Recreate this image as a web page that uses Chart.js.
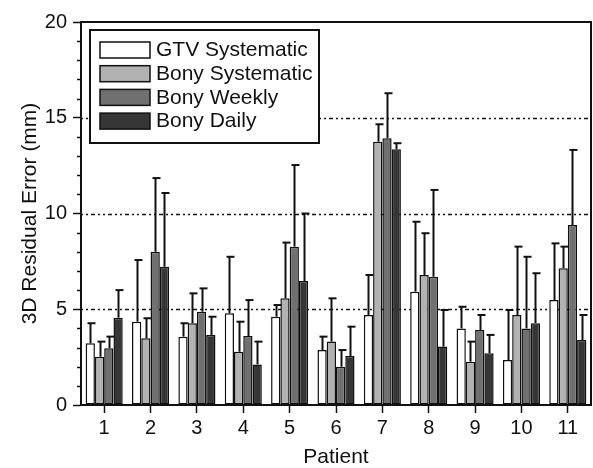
<!DOCTYPE html>
<html>
<head>
<meta charset="utf-8">
<script src="https://cdn.jsdelivr.net/npm/chart.js@4/dist/chart.umd.min.js"></script>
<style>
html,body{margin:0;padding:0;background:#fff;}
#wrap{position:relative;width:593px;height:468px;}
</style>
</head>
<body>
<div id="wrap"><canvas id="c" width="593" height="468"></canvas></div>
<script>
const categories = ['1','2','3','4','5','6','7','8','9','10','11'];
const seriesNames = ['GTV Systematic','Bony Systematic','Bony Weekly','Bony Daily'];
const gtvSystematic = [3.22,4.35,3.57,4.79,4.61,2.87,4.70,5.92,4.00,2.35,5.48];
const gtvSystematicErr = [1.05,3.22,0.70,2.95,0.61,0.70,2.09,3.65,1.13,2.61,2.96];
const bonySystematic = [2.52,3.48,4.27,2.78,5.57,3.31,13.75,6.79,2.26,4.70,7.14];
const bonySystematicErr = [0.79,1.05,1.56,1.57,2.91,2.26,0.91,2.18,1.05,3.57,1.13];
const bonyWeekly = [2.96,8.00,4.87,3.60,8.27,2.00,13.93,6.70,3.92,4.00,9.40];
const bonyWeeklyErr = [0.61,3.85,1.22,1.88,4.26,0.87,2.35,4.53,0.78,3.74,3.92];
const bonyDaily = [4.56,7.22,3.66,2.12,6.47,2.56,13.35,3.05,2.70,4.27,3.39];
const bonyDailyErr = [1.44,3.85,0.95,1.19,3.53,1.53,0.32,1.91,0.96,2.61,1.31];
const yTickLabels = [0,5,10,15,20];
const refLines = [5,10,15];

const colors = ['#ffffff','#b2b2b2','#707070','#363636'];
const values = [gtvSystematic,bonySystematic,bonyWeekly,bonyDaily];
const errors = [gtvSystematicErr,bonySystematicErr,bonyWeeklyErr,bonyDailyErr];
const FONT = 'Liberation Sans, Arial, sans-serif';

const datasets = seriesNames.map((n,i)=>({
  label:n, data:values[i], errors:errors[i],
  backgroundColor:colors[i], borderColor:'#111', borderWidth:1.5,
  borderSkipped:false, barPercentage:1.0, categoryPercentage:0.8
}));

const decor = {
  id:'decor',
  beforeDatasetsDraw(chart){
    const {ctx, chartArea:a, scales:{y}} = chart;
    ctx.save();
    ctx.strokeStyle='#111'; ctx.lineWidth=1.5; ctx.setLineDash([2,3,2,3,4,3]);
    refLines.forEach(v=>{
      const py=Math.round(y.getPixelForValue(v))+0.5;
      ctx.beginPath(); ctx.moveTo(a.left,py); ctx.lineTo(a.right,py); ctx.stroke();
    });
    ctx.restore();
  },
  afterDatasetsDraw(chart){
    const {ctx, chartArea:a, scales:{y}} = chart;
    ctx.save();
    ctx.strokeStyle='#111'; ctx.lineWidth=2;
    chart.data.datasets.forEach((ds,di)=>{
      const meta=chart.getDatasetMeta(di);
      meta.data.forEach((bar,j)=>{
        const v=ds.data[j], e=ds.errors[j];
        const x=Math.round(bar.x)+0.5;
        const y0=y.getPixelForValue(v), y1=y.getPixelForValue(v+e);
        ctx.beginPath(); ctx.moveTo(x,y0); ctx.lineTo(x,y1); ctx.stroke();
        ctx.beginPath(); ctx.moveTo(x-3,y1); ctx.lineTo(x+5,y1); ctx.stroke();
      });
    });
    ctx.restore();
  },
  afterDraw(chart){
    const {ctx, chartArea:a, scales:{y}} = chart;
    ctx.save();
    ctx.strokeStyle='#111'; ctx.lineWidth=2;
    ctx.strokeRect(a.left,a.top,a.right-a.left,a.bottom-a.top);
    ctx.lineWidth=1.5;
    for(let v=y.min; v<=y.max; v++){
      if(v%5===0) continue;
      const py=Math.round(y.getPixelForValue(v))+0.5;
      ctx.beginPath(); ctx.moveTo(a.left-4,py); ctx.lineTo(a.left,py); ctx.stroke();
    }
    const L=90,T=30,W=229,H=113;
    ctx.fillStyle='#fff'; ctx.fillRect(L,T,W,H);
    ctx.lineWidth=2; ctx.strokeRect(L,T,W,H);
    chart.data.datasets.forEach((ds,i)=>{
      const ry=T+12+i*23.7;
      ctx.fillStyle=ds.backgroundColor; ctx.fillRect(100,ry,50,16);
      ctx.lineWidth=1.5; ctx.strokeStyle='#111'; ctx.strokeRect(100,ry,50,16);
      ctx.fillStyle='#111'; ctx.font='21px '+FONT; ctx.textBaseline='middle'; ctx.textAlign='left';
      ctx.fillText(ds.label,156,ry+8.5);
    });
    ctx.restore();
  }
};

new Chart(document.getElementById('c'),{
  type:'bar',
  data:{labels:categories, datasets},
  options:{
    responsive:false, animation:false, devicePixelRatio:1,
    layout:{padding:{top:22,right:2,left:0,bottom:0}},
    plugins:{legend:{display:false}, tooltip:{enabled:false}},
    scales:{
      x:{
        grid:{drawOnChartArea:false, offset:false, tickLength:8, tickColor:'#111', tickWidth:1.5},
        border:{display:true,color:'#111',width:2},
        ticks:{color:'#111', font:{family:FONT,size:20}, padding:3, maxRotation:0},
        title:{display:true,text:'Patient',color:'#111',font:{family:FONT,size:21,lineHeight:1},padding:{top:0,bottom:0}},
        afterFit(s){ s.height=63; }
      },
      y:{
        min:0,max:20,
        grid:{drawOnChartArea:false, tickLength:8, tickColor:'#111', tickWidth:1.5},
        border:{display:true,color:'#111',width:2},
        ticks:{stepSize:5, color:'#111', font:{family:FONT,size:20}, padding:6,
          callback:(v)=> yTickLabels.includes(v)? String(v):''},
        title:{display:true,text:'3D Residual Error (mm)',color:'#111',font:{family:FONT,size:21,lineHeight:1.2},padding:{top:18,bottom:0}},
        afterFit(s){ s.width=81; }
      }
    }
  },
  plugins:[decor]
});
</script>
</body>
</html>
